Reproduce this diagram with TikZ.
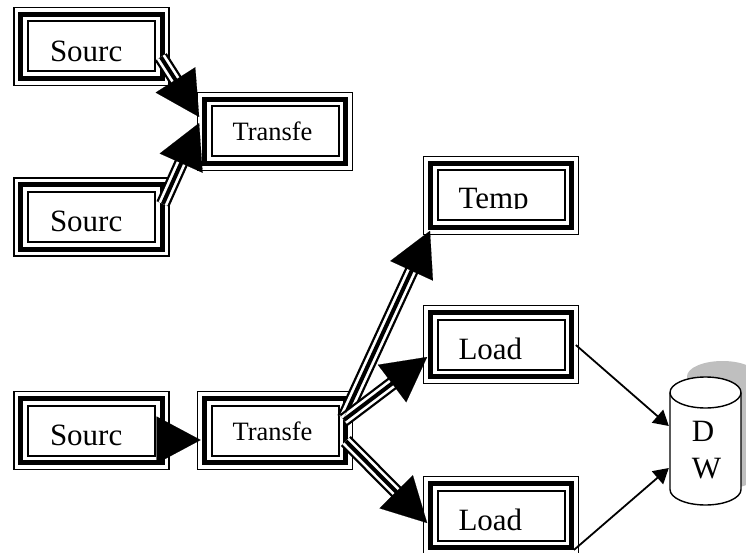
\documentclass[tikz,border=0pt]{standalone}
\usepackage{fontspec}
\setmainfont{Liberation Serif}
\usetikzlibrary{arrows.meta,calc}
\tikzset{
  tribox/.style args={#1/#2/#3}{draw=black,line width=1.7pt,fill=white,inner sep=0pt,
    minimum width=155pt,minimum height=78pt,text width=155pt,align=left,
    text height=#2pt,text depth=0pt,
    path picture={
      \draw[black,line width=5.3pt] ([shift={(6.8pt,-6.8pt)}]path picture bounding box.north west) rectangle ([shift={(-6.8pt,6.8pt)}]path picture bounding box.south east);
      \draw[black,line width=2pt] ([shift={(14pt,-14pt)}]path picture bounding box.north west) rectangle ([shift={(-14pt,14pt)}]path picture bounding box.south east);
    },
    font=\fontsize{#3}{#3}\selectfont},
  tripleline/.style={black,line width=14pt,shorten >=38pt,
    postaction={draw=white,line width=9.4pt,shorten >=38pt},
    postaction={draw=black,line width=4pt,shorten >=38pt}},
  bighead/.style={draw=black,line width=0.1pt,-{Triangle[length=44pt,width=47pt,fill=black]}},
  thinarrow/.style={black,line width=1.8pt,-{Triangle[length=15pt,width=17pt,fill=black]}},
  cylline/.style={black,line width=1.4pt,fill=white},
}
\begin{document}
\begin{tikzpicture}[x=1pt,y=-1pt]
\useasboundingbox (0,0) rectangle (746,553);
\clip (0,0) rectangle (746,553);
\fill[white] (0,0) rectangle (746,553);
% boxes
\node[tribox={x/30/31}] (s1) at (91.5,46.5) {\hspace*{36pt}Sourc};
\node[tribox={x/30/31}] (s2) at (91.5,217) {\hspace*{36pt}Sourc};
\node[tribox={x/29/31}] (s3) at (91.5,430.5) {\hspace*{36pt}Sourc};
\node[tribox={x/19/26.5}] (t1) at (275,131.5) {\hspace*{35pt}Transfe};
\node[tribox={x/19/26.5}] (t2) at (275,430.5) {\hspace*{35pt}Transfe};
\node[tribox={x/27/31}] (temp) at (501,195.5) {\hspace*{35pt}Temp};
\fill[white] ($(temp.center)+(-45,13.5)$) rectangle ($(temp.center)+(45,23)$);
\node[tribox={x/29/31}] (l1) at (501,344.5) {\hspace*{35pt}Load};
\node[tribox={x/29/31}] (l2) at (501,515.5) {\hspace*{35pt}Load};
% cylinder
\fill[black!25] (722.5,376.5) ellipse [x radius=35.5, y radius=15.5];
\fill[black!25] (687,376.5) rectangle (758,473.5);
\fill[black!25] (687,473.5) .. controls (687,482) and (703,489) .. (722.5,489) .. controls (742,489) and (758,482) .. (758,473.5) -- cycle;
\node[inner sep=0pt,minimum width=71pt,minimum height=128pt] (dw) at (705.5,441) {};
\draw[cylline] (670,392.5) -- (670,489.5) .. controls (670,498.06) and (685.9,505) .. (705.5,505) .. controls (725.1,505) and (741,498.06) .. (741,489.5) -- (741,392.5);
\draw[cylline] (705.5,392.5) ellipse [x radius=35.5, y radius=15.5];
\node[inner sep=0pt,align=left,font=\fontsize{31}{37}\selectfont] (dwtext) at (706.5,450.5) {D\\W};
% triple connectors
\draw[tripleline] ([shift={(-9,10.5)}]s1.east) -- ([shift={(2.5,-14.5)}]t1.west);
\draw[tripleline] ([shift={(-7,-13)}]s2.east) -- ([shift={(2.5,-8.5)}]t1.west);
\draw[tripleline] ([shift={(-9.5,-12.5)}]t2.east) -- ([shift={(-71,-4.5)}]temp.south);
\draw[tripleline] ([shift={(-9.5,-10.5)}]t2.east) -- ([shift={(4.5,12.5)}]l1.west);
\draw[tripleline] ([shift={(-7.5,10.5)}]t2.east) -- ([shift={(4.5,7.5)}]l2.west);
% heads
\draw[bighead] ([shift={(-9,10.5)}]s1.east) -- ([shift={(2.5,-14.5)}]t1.west);
\draw[bighead] ([shift={(-7,-13)}]s2.east) -- ([shift={(2.5,-8.5)}]t1.west);
\draw[bighead] ([shift={(-12,9.5)}]s3.east) -- ([shift={(4,9.5)}]t2.west);
\draw[bighead] ([shift={(-9.5,-12.5)}]t2.east) -- ([shift={(-71,-4.5)}]temp.south);
\draw[bighead] ([shift={(-9.5,-10.5)}]t2.east) -- ([shift={(4.5,12.5)}]l1.west);
\draw[bighead] ([shift={(-7.5,10.5)}]t2.east) -- ([shift={(4.5,7.5)}]l2.west);
% thin arrows
\draw[thinarrow] ([shift={(-3.5,0.5)}]l1.east) -- ([shift={(-1,-15)}]dw.west);
\draw[thinarrow] ([shift={(-5.5,34.5)}]l2.east) -- ([shift={(-1,27)}]dw.west);
\end{tikzpicture}
\end{document}
